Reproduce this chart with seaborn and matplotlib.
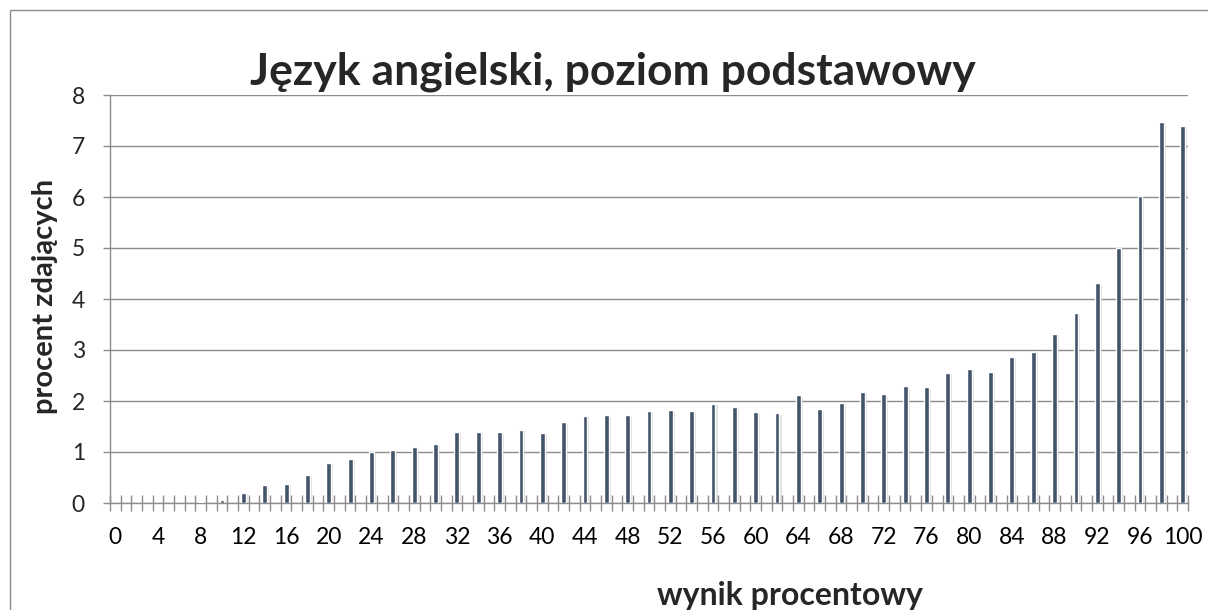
import matplotlib
matplotlib.use('Agg')
import pandas as pd
import seaborn as sns
import matplotlib.pyplot as plt
import matplotlib.patheffects as pe
from matplotlib.patches import Rectangle

# wyniki procentowe (tylko parzyste) i procent zdajacych
wynik = list(range(0, 101, 2))
procent = [0, 0, 0, 0.005, 0.02, 0.05, 0.2, 0.35, 0.38, 0.55,
           0.79, 0.87, 1.0, 1.04, 1.09, 1.16, 1.39, 1.40, 1.40, 1.43,
           1.38, 1.58, 1.71, 1.72, 1.72, 1.81, 1.82, 1.81, 1.95, 1.89,
           1.79, 1.76, 2.11, 1.84, 1.97, 2.17, 2.13, 2.29, 2.27, 2.55,
           2.63, 2.57, 2.87, 2.97, 3.32, 3.73, 4.31, 5.0, 6.02, 7.48,
           7.39]

# all categories 0..100 on the axis, odd ones stay empty
kategorie = [str(i) for i in range(0, 101)]
etykiety = [str(i) if i % 4 == 0 else '' for i in range(0, 101)]

df = pd.DataFrame({'wynik': [str(w) for w in wynik], 'procent': procent})

sns.set_style('white')
plt.rcParams['font.family'] = ['Lato', 'DejaVu Sans']

fig = plt.figure(figsize=(12.08, 6.10), dpi=100)
ax = fig.add_axes([110/1208, 1 - 503/610, (1188 - 110)/1208, (503 - 95)/610])

sns.barplot(data=df, x='wynik', y='procent', order=kategorie, color='#44546A',
            saturation=1, width=0.45, ax=ax, zorder=3)
for bar in ax.patches:
    bar.set_path_effects([pe.SimplePatchShadow(offset=(1.5, -1), shadow_rgbFace='#b0b0b0', alpha=0.4),
                          pe.Normal()])

ax.set_xlim(-0.5, 100.5)
ax.set_ylim(0, 8)
ax.set_yticks(range(0, 9))
ax.yaxis.grid(True, color='#8c8c8c', linewidth=1)
ax.set_axisbelow(True)

# tick marks between categories, labels every 4
ax.set_xticks(range(0, 101))
ax.set_xticklabels(etykiety)
ax.set_xticks([i + 0.5 for i in range(-1, 101)], minor=True)
ax.tick_params(axis='x', which='major', length=0, labelsize=16.5, pad=17, colors='black')
ax.tick_params(axis='x', which='minor', bottom=True, direction='inout', length=11.5, width=1,
               color='#8c8c8c')
ax.tick_params(axis='y', which='major', direction='out', length=5, width=1, color='#8c8c8c',
               labelsize=16.5, pad=13, left=True)

for s in ['top', 'right']:
    ax.spines[s].set_visible(False)
for s in ['left', 'bottom']:
    ax.spines[s].set_color('#8c8c8c')
    ax.spines[s].set_linewidth(1)

ax.set_xlabel('')
ax.set_ylabel('')

fig.text(613/1208, 1 - 85/610, 'Język angielski, poziom podstawowy', ha='center', va='baseline',
         fontsize=32, fontweight='bold')
fig.text(45/1208, 1 - 296/610, 'procent zdających', ha='center', va='center', rotation=90,
         fontsize=21, fontweight='bold')
fig.text(790/1208, 1 - 605/610, 'wynik procentowy', ha='center', va='baseline',
         fontsize=23, fontweight='bold')

# chart frame (right and bottom edges fall outside the image)
fig.patches.append(Rectangle((10/1208, -0.1), 1.2, 1.1 - 10/610, transform=fig.transFigure,
                             fill=False, edgecolor='#8c8c8c', linewidth=1))

fig.savefig('out.png', dpi=100)
